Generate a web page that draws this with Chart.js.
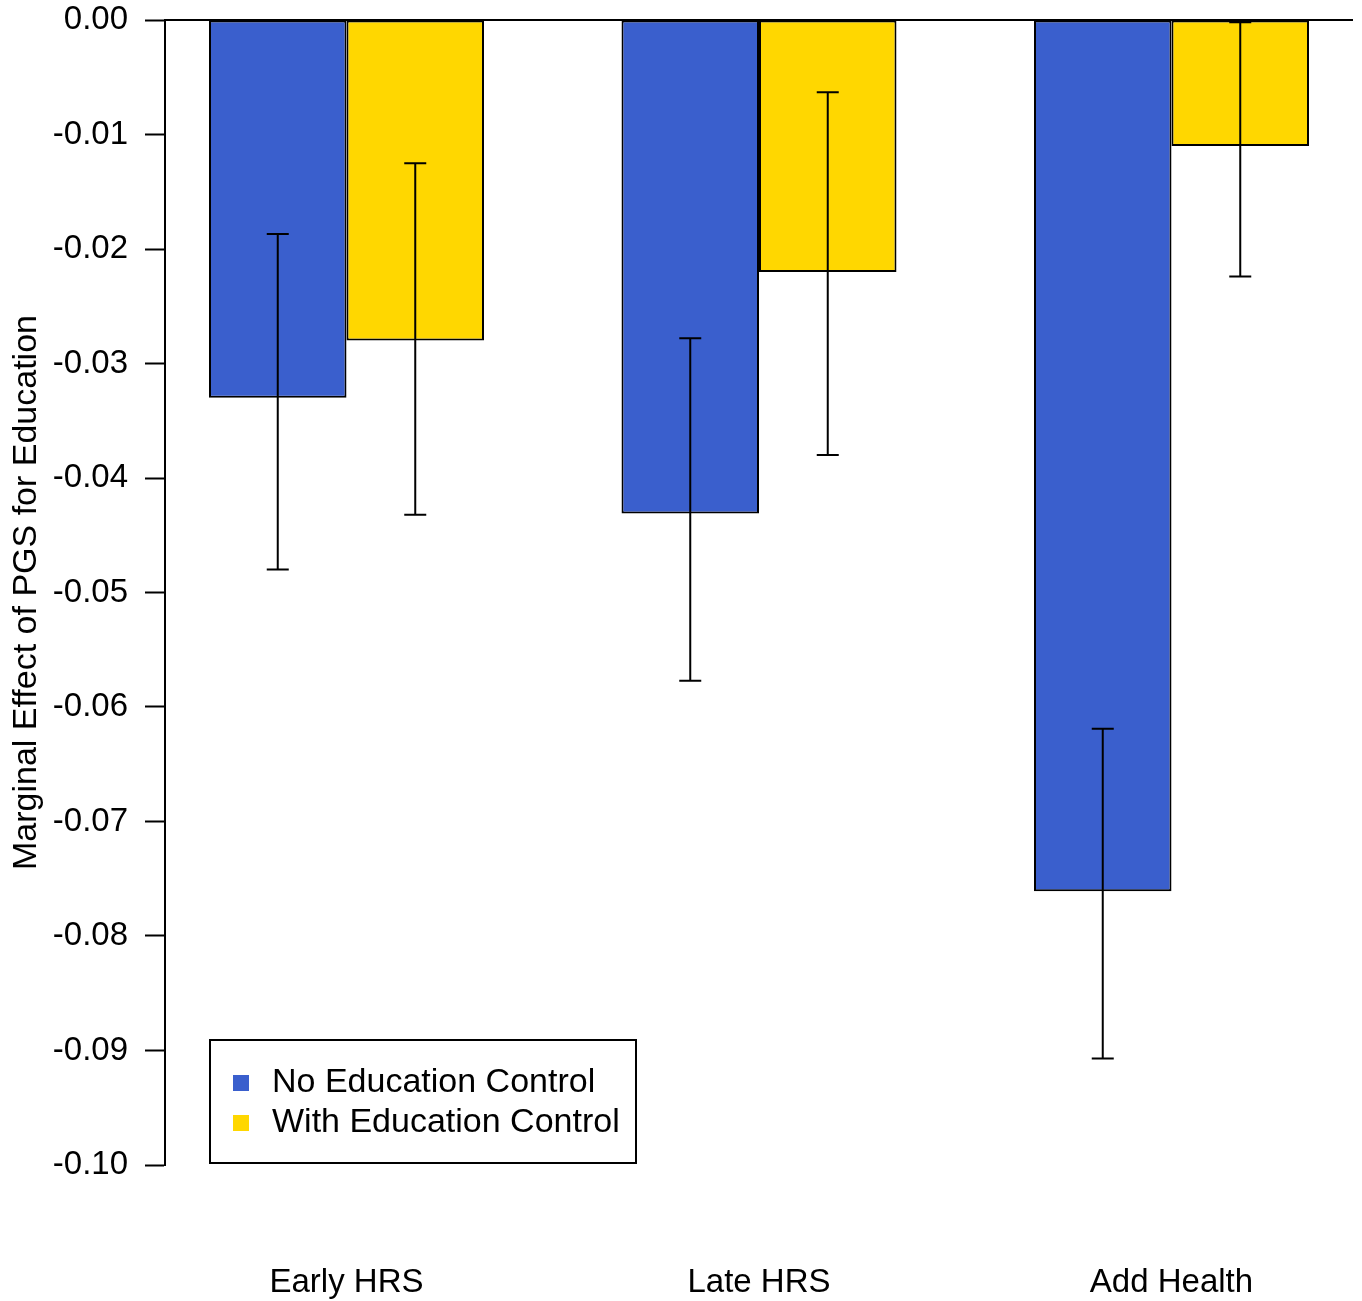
<!DOCTYPE html>
<html>
<head>
<meta charset="utf-8">
<script src="https://cdn.jsdelivr.net/npm/chart.js@4.4.0/dist/chart.umd.min.js"></script>
<style>
  html, body { margin: 0; padding: 0; background: #fff; }
  #wrap { width: 1362px; height: 1301px; }
</style>
</head>
<body>
<div id="wrap"><canvas id="chart"></canvas></div>
<script>
// Data
const categories = ['Early HRS', 'Late HRS', 'Add Health'];
const seriesNames = ['No Education Control', 'With Education Control'];

const noEdu = [-0.0330, -0.0431, -0.0761];
const noEduLow = [-0.0480, -0.0577, -0.0907];
const noEduHigh = [-0.0187, -0.0278, -0.0619];

const withEdu = [-0.0280, -0.0220, -0.0110];
const withEduLow = [-0.0432, -0.0380, -0.0224];
const withEduHigh = [-0.0125, -0.0063, -0.0002];

const yTicks = [0, -0.01, -0.02, -0.03, -0.04, -0.05, -0.06, -0.07, -0.08, -0.09, -0.10];

const blue = '#3a5fcd';
const gold = '#ffd700';
const FONT = "'Liberation Sans', Arial, sans-serif";

const errors = [[noEduLow, noEduHigh], [withEduLow, withEduHigh]];

// error bars + zero line
const extras = {
  id: 'extras',
  afterDatasetsDraw(chart) {
    const ctx = chart.ctx;
    const y = chart.scales.y;
    const area = chart.chartArea;
    ctx.save();
    ctx.strokeStyle = '#000';
    ctx.lineWidth = 2;
    // zero line
    const y0 = y.getPixelForValue(0);
    ctx.beginPath();
    ctx.moveTo(area.left, y0);
    ctx.lineTo(area.right, y0);
    ctx.stroke();

    chart.data.datasets.forEach((ds, di) => {
      const meta = chart.getDatasetMeta(di);
      meta.data.forEach((bar, i) => {
        const lo = y.getPixelForValue(errors[di][0][i]);
        const hi = y.getPixelForValue(errors[di][1][i]);
        ctx.beginPath();
        ctx.moveTo(bar.x, lo);
        ctx.lineTo(bar.x, hi);
        ctx.moveTo(bar.x - 11, lo);
        ctx.lineTo(bar.x + 11, lo);
        ctx.moveTo(bar.x - 11, hi);
        ctx.lineTo(bar.x + 11, hi);
        ctx.stroke();
      });
    });
    ctx.restore();
  }
};

// legend box in lower left
const boxLegend = {
  id: 'boxLegend',
  afterDraw(chart) {
    const ctx = chart.ctx;
    const x = 210, top = 1040, w = 426, h = 123;
    ctx.save();
    ctx.fillStyle = '#fff';
    ctx.fillRect(x, top, w, h);
    ctx.strokeStyle = '#000';
    ctx.lineWidth = 2;
    ctx.strokeRect(x, top, w, h);
    ctx.font = '34px ' + FONT;
    ctx.textBaseline = 'middle';
    chart.data.datasets.forEach((ds, i) => {
      const cy = top + 43 + i * 40;
      ctx.fillStyle = ds.backgroundColor;
      ctx.fillRect(x + 23, cy - 8, 16, 16);
      ctx.fillStyle = '#000';
      ctx.fillText(ds.label, x + 62, cy);
    });
    ctx.restore();
  }
};

new Chart(document.getElementById('chart'), {
  type: 'bar',
  data: {
    datasets: [
      {
        label: seriesNames[0],
        data: noEdu.map((v, i) => ({ x: i, y: v })),
        backgroundColor: blue,
        borderColor: '#000',
        borderWidth: 2,
        borderSkipped: false
      },
      {
        label: seriesNames[1],
        data: withEdu.map((v, i) => ({ x: i, y: v })),
        backgroundColor: gold,
        borderColor: '#000',
        borderWidth: 2,
        borderSkipped: false
      }
    ]
  },
  options: {
    responsive: true,
    maintainAspectRatio: false,
    animation: false,
    categoryPercentage: 2 / 3,
    barPercentage: 1,
    layout: { padding: { top: 20, right: 9, left: 0, bottom: 0 } },
    plugins: {
      legend: { display: false },
      tooltip: { enabled: false }
    },
    scales: {
      x: {
        type: 'linear',
        offset: false,
        min: -0.44,
        max: 2.44,
        grid: { display: false },
        border: { display: false },
        afterBuildTicks: s => { s.ticks = categories.map((c, i) => ({ value: i })); },
        afterFit: s => { s.height = 136; s.paddingLeft = 0; s.paddingRight = 0; },
        ticks: {
          callback: v => categories[v],
          color: '#000',
          padding: 90,
          maxRotation: 0,
          autoSkip: false,
          font: { family: FONT, size: 33 }
        }
      },
      y: {
        min: -0.10,
        max: 0,
        afterBuildTicks: s => { s.ticks = yTicks.map(v => ({ value: v })); },
        afterFit: s => { s.width = 165; s.paddingTop = 0; s.paddingBottom = 0; },
        grid: {
          drawOnChartArea: false,
          drawTicks: true,
          tickLength: 20,
          tickColor: '#000',
          tickWidth: 2
        },
        border: { display: true, color: '#000', width: 2 },
        ticks: {
          callback: v => v.toFixed(2),
          color: '#000',
          padding: 17,
          font: { family: FONT, size: 33 }
        },
        title: {
          display: true,
          text: 'Marginal Effect of PGS for Education',
          color: '#000',
          padding: { top: 6, bottom: 0 },
          font: { family: FONT, size: 34 }
        }
      }
    }
  },
  plugins: [extras, boxLegend]
});
</script>
</body>
</html>
